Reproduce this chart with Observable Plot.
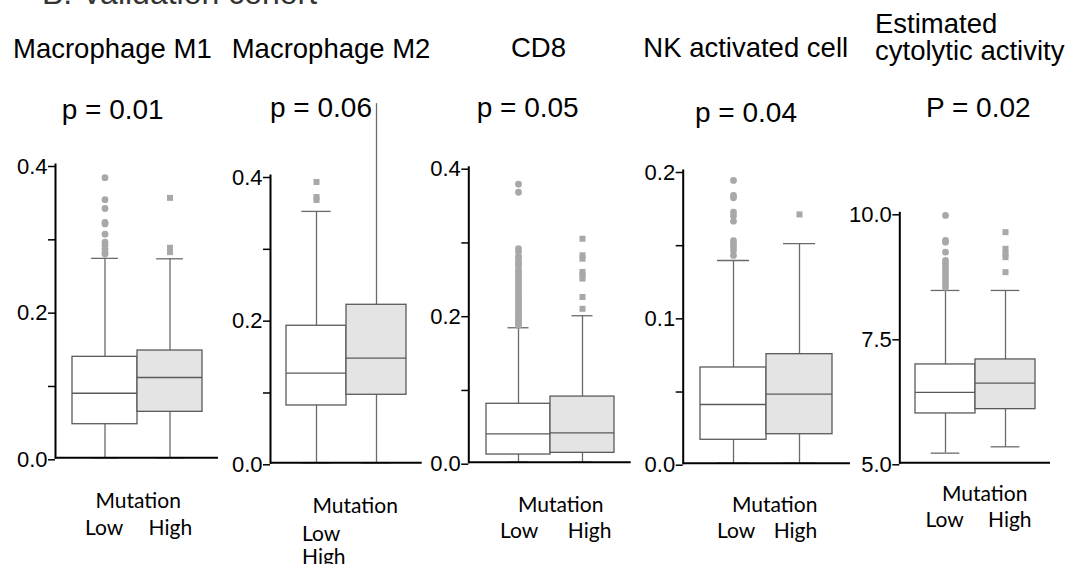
<!DOCTYPE html>
<html><head><meta charset="utf-8">
<script src="https://cdn.jsdelivr.net/npm/d3@7"></script>
<script src="https://cdn.jsdelivr.net/npm/@observablehq/plot@0.6"></script>
<style>
html,body{margin:0;padding:0;background:#fff;}
#fig{position:relative;width:1084px;height:564px;overflow:hidden;background:#fff;}
#fig svg{position:absolute;top:0;}
</style></head><body><div id="fig"></div>
<script>
// ---------- data ----------
const figureTitle = "B. Validation cohort";
const panelTitles = [["Macrophage M1"], ["Macrophage M2"], ["CD8"], ["NK activated cell"], ["Estimated", "cytolytic activity"]];
const pValues = ["p = 0.01", "p = 0.06", "p = 0.05", "p = 0.04", "P = 0.02"];
const groups = ["Low", "High"];
const groupTitle = "Mutation";

// five-number summaries: [lower whisker, Q1, median, Q3, upper whisker]
const m1Low  = [0, 0.0458, 0.088, 0.1377, 0.272];
const m1High = [0, 0.0627, 0.1095, 0.1463, 0.2714];
const m2Low  = [0, 0.0798, 0.1248, 0.1908, 0.350];
const m2High = [0, 0.0947, 0.1457, 0.220, 0.500];
const cd8Low  = [0, 0.0104, 0.0385, 0.0792, 0.1823];
const cd8High = [0, 0.0127, 0.0398, 0.089, 0.1986];
const nkLow  = [0, 0.016, 0.0401, 0.0654, 0.1385];
const nkHigh = [0, 0.0198, 0.0472, 0.0745, 0.150];
const cytLow  = [5.193, 5.987, 6.407, 6.967, 8.447];
const cytHigh = [5.32, 6.073, 6.593, 7.067, 8.447];

// outliers
const m1LowOut  = [0.382, 0.352, 0.340, 0.321, 0.319, 0.305, 0.294, 0.2895, 0.285, 0.2805, 0.278];
const m1HighOut = [0.3545, 0.2864, 0.2805];
const m2LowOut  = [0.391, 0.370, 0.366];
const m2HighOut = [];
const cd8LowOut = [0.377, 0.366, 0.2896, 0.2855, 0.279, 0.276, 0.2712, 0.2685, 0.265, 0.2598, 0.2571, 0.253, 0.2494,
  0.2452, 0.242, 0.2386, 0.235, 0.2318, 0.228, 0.2245, 0.221, 0.2182, 0.215, 0.2121, 0.2085, 0.2052, 0.202, 0.1991,
  0.196, 0.1934, 0.1905, 0.188, 0.1858];
const cd8HighOut = [0.303, 0.2805, 0.276, 0.258, 0.2534, 0.249, 0.224, 0.208];
const nkLowOut  = [0.1932, 0.183, 0.1813, 0.1715, 0.169, 0.1654, 0.152, 0.150, 0.1476, 0.1453, 0.142];
const nkHighOut = [0.170];
const cytLowOut  = [9.947, 9.447, 9.413, 9.213, 9.047, 8.98, 8.913, 8.847, 8.78, 8.713, 8.647, 8.58, 8.513];
const cytHighOut = [9.613, 9.28, 9.18, 9.113, 8.813];

const summaries = [[m1Low, m1High], [m2Low, m2High], [cd8Low, cd8High], [nkLow, nkHigh], [cytLow, cytHigh]];
const outliers = [[m1LowOut, m1HighOut], [m2LowOut, m2HighOut], [cd8LowOut, cd8HighOut], [nkLowOut, nkHighOut], [cytLowOut, cytHighOut]];

const yDomains = [[0, 0.4], [0, 0.4], [0, 0.4], [0, 0.2], [5, 10]];
const yTicks = [[0, 0.1, 0.2, 0.3, 0.4], [0, 0.1, 0.2, 0.3, 0.4], [0, 0.1, 0.2, 0.3, 0.4], [0, 0.05, 0.1, 0.15, 0.2], [5, 7.5, 10]];
const yTickLabels = [["0.0", "", "0.2", "", "0.4"], ["0.0", "", "0.2", "", "0.4"], ["0.0", "", "0.2", "", "0.4"],
  ["0.0", "", "0.1", "", "0.2"], ["5.0", "7.5", "10.0"]];

// ---------- layout & style ----------
const outlierSymbols = [["circle", "square"], ["square", "square"], ["circle", "square"], ["circle", "square"], ["circle", "square"]];
const layout = [
  {left: 0,   width: 230, axisX: 55,    axisEnd: 218,   yTop: 164,   yBottom: 457.3, cap: 27,
   title: [13, 58.3], p: [61.7, 119], mut: [95.5, 507.5], low: [85, 535], high: [148.6, 535]},
  {left: 220, width: 215, axisX: 270,   axisEnd: 421.7, yTop: 175,   yBottom: 462.3, cap: 30,
   title: [231.7, 58.3], p: [270, 117.3], mut: [312.5, 512.7], low: [302, 540.5], high: [302, 564.4]},
  {left: 420, width: 220, axisX: 468.3, axisEnd: 630.7, yTop: 166.7, yBottom: 461.7, cap: 22,
   title: [511, 57.3], p: [476.7, 116.7], mut: [518, 511.7], low: [500, 538.4], high: [567.8, 538.4]},
  {left: 630, width: 230, axisX: 682.7, axisEnd: 850,   yTop: 170,   yBottom: 462.7, cap: 33,
   title: [643.3, 57.3], p: [695, 121.7], mut: [732, 511.7], low: [717, 538.4], high: [773.7, 538.4]},
  {left: 840, width: 244, axisX: 899.3, axisEnd: 1050,  yTop: 212.3, yBottom: 462.3, cap: 29,
   title: [875, 33.3], p: [926, 116.7], mut: [942, 500.5], low: [925.4, 527.3], high: [988, 527.3]}
];
const H = 564;
const fig = document.getElementById("fig");

layout.forEach((L, i) => {
  const rows = groups.map((g, j) => {
    const s = summaries[i][j];
    return {group: g, lo: s[0], q1: s[1], med: s[2], q3: s[3], hi: s[4]};
  });
  const outl = groups.flatMap((g, j) => outliers[i][j].map(v => ({group: g, value: v})));
  const dom = yDomains[i];
  const labelMap = new Map(yTicks[i].map((t, k) => [t, yTickLabels[i][k]]));
  const bw = (L.axisEnd - L.axisX) / 2.5;
  const capInset = (bw - L.cap) / 2;
  const chart = Plot.plot({
    width: L.width, height: H,
    marginLeft: L.axisX - L.left,
    marginRight: L.left + L.width - L.axisEnd,
    marginTop: L.yTop,
    marginBottom: H - L.yBottom,
    style: {background: "transparent", overflow: "visible", fontFamily: "'Liberation Sans', Arial, sans-serif", fontSize: "22px", color: "black"},
    x: {type: "band", domain: groups, paddingInner: 0, paddingOuter: 0.25, axis: null},
    y: {domain: dom, axis: null},
    color: {domain: groups, range: ["#ffffff", "#e4e4e4"]},
    symbol: {domain: groups, range: outlierSymbols[i]},
    marks: [
      Plot.ruleX(rows, {x: "group", y1: "lo", y2: "q1", stroke: "#6a6a6a", strokeWidth: 1.3}),
      Plot.ruleX(rows, {x: "group", y1: "q3", y2: "hi", stroke: "#6a6a6a", strokeWidth: 1.3}),
      Plot.tickY(rows.filter(d => d.hi <= dom[1]), {x: "group", y: "hi", insetLeft: capInset, insetRight: capInset, stroke: "#6a6a6a", strokeWidth: 1.3}),
      Plot.tickY(rows, {x: "group", y: "lo", insetLeft: capInset, insetRight: capInset, stroke: "#6a6a6a", strokeWidth: 1.3}),
      Plot.barY(rows, {x: "group", y1: "q1", y2: "q3", fill: "group", stroke: "#5a5a5a", strokeWidth: 1.3, inset: 0}),
      Plot.tickY(rows, {x: "group", y: "med", stroke: "#5a5a5a", strokeWidth: 1.3}),
      Plot.dot(outl, {x: "group", y: "value", symbol: "group", r: 3.4, fill: "#a8a8a8", stroke: null}),
      Plot.ruleY([dom[0]], {stroke: "black", strokeWidth: 2}),
      Plot.frame({anchor: "left", stroke: "black", strokeWidth: 2}),
      Plot.axisY({ticks: yTicks[i], tickFormat: d => labelMap.get(d), tickSize: 7, tickPadding: 1, strokeWidth: 1.5,
        dy: 2, label: null, fontSize: 22, fontFamily: "'Liberation Sans', Arial, sans-serif", fill: "black"})
    ]
  });
  chart.style.left = L.left + "px";
  fig.appendChild(chart);
});

// ---------- text annotations ----------
const ann = d3.select(fig).append("svg")
  .attr("width", 1084).attr("height", H)
  .style("left", "0px").style("pointer-events", "none");
ann.append("text").attr("x", 42).attr("y", 4).text(figureTitle)
  .attr("font-family", "'Liberation Sans', Arial, sans-serif").attr("font-size", 32).attr("fill", "#333");
layout.forEach((L, i) => {
  panelTitles[i].forEach((line, k) => {
    ann.append("text").attr("x", L.title[0]).attr("y", L.title[1] + k * 26.7)
      .text(line).attr("font-family", "'Liberation Sans', Arial, sans-serif").attr("font-size", 27.5).attr("fill", "black");
  });
  ann.append("text").attr("x", L.p[0]).attr("y", L.p[1]).text(pValues[i])
    .attr("font-family", "'Liberation Sans', Arial, sans-serif").attr("font-size", 28).attr("fill", "black");
  const lab = [[groupTitle, L.mut], [groups[0], L.low], [groups[1], L.high]];
  lab.forEach(([t, pos]) => {
    ann.append("text").attr("x", pos[0]).attr("y", pos[1]).text(t)
      .attr("font-family", "Lato, 'Open Sans', sans-serif").attr("font-size", 21).attr("fill", "black");
  });
});
</script></body></html>
